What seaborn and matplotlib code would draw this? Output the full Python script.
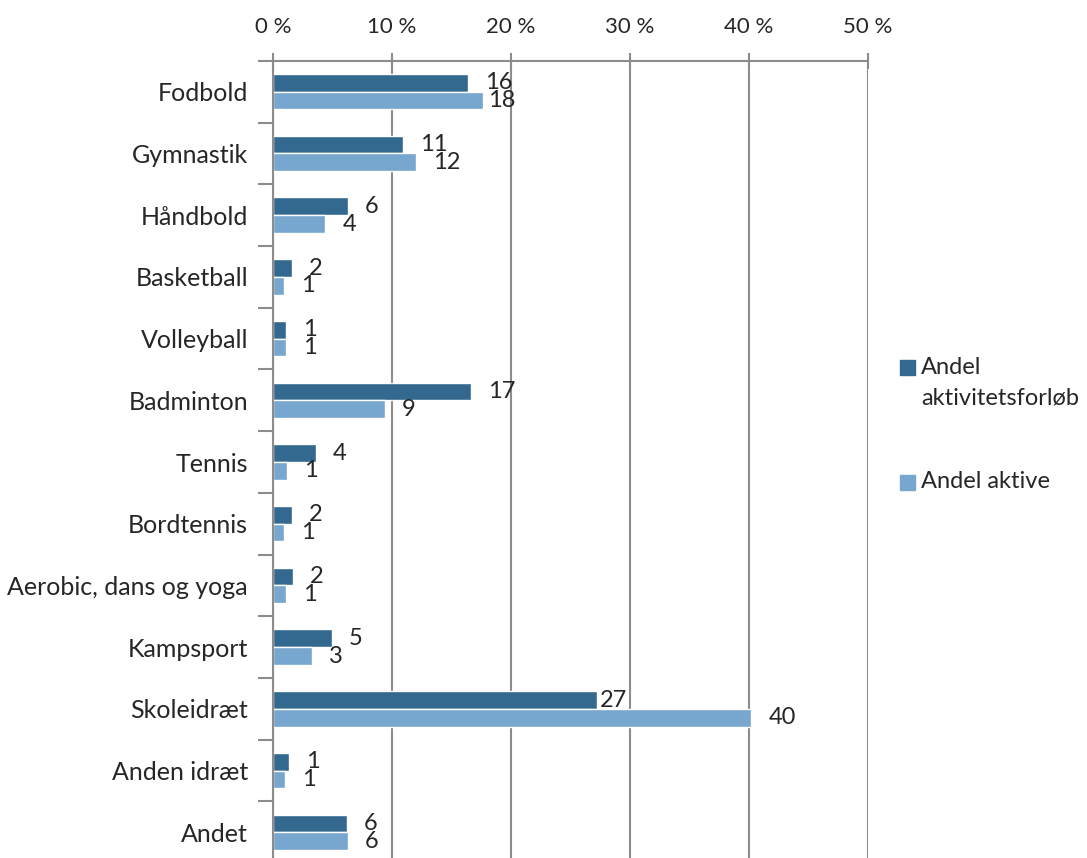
import pandas as pd
import seaborn as sns
import matplotlib.pyplot as plt
from matplotlib.patches import Rectangle

sports = ['Fodbold', 'Gymnastik', 'Håndbold', 'Basketball', 'Volleyball', 'Badminton',
          'Tennis', 'Bordtennis', 'Aerobic, dans og yoga', 'Kampsport', 'Skoleidræt',
          'Anden idræt', 'Andet']
forloeb = [16.35, 10.9, 6.3, 1.6, 1.1, 16.6, 3.6, 1.6, 1.68, 4.95, 27.2, 1.3, 6.2]
aktive = [17.6, 12.05, 4.4, 0.92, 1.1, 9.4, 1.2, 0.92, 1.1, 3.3, 40.2, 0.98, 6.3]
series = ['Andel aktivitetsforløb', 'Andel aktive']
colors = ['#33698F', '#77A6CF']
xticks = [0, 10, 20, 30, 40, 50]

df = pd.DataFrame({
    'sport': sports * 2,
    'andel': forloeb + aktive,
    'serie': [series[0]] * len(sports) + [series[1]] * len(sports),
})

sns.set_style('white')
plt.rcParams['font.family'] = ['Lato', 'DejaVu Sans']
grey = '#8C8C8C'

fig = plt.figure(figsize=(10.87, 8.58), dpi=100)
ax = fig.add_axes([0.2512, -0.006, 0.5474, 0.935])
sns.barplot(data=df, x='andel', y='sport', hue='serie', palette=colors, width=0.574,
            orient='h', saturation=1, legend=False, ax=ax)

# x axis on top with % labels
ax.set_xlim(0, 50)
ax.xaxis.tick_top()
ax.set_xticks(xticks)
ax.set_xticklabels([f'{t} %' for t in xticks], fontsize=16)
ax.tick_params(axis='x', direction='inout', length=12, width=1.5, color=grey, pad=11)
ax.grid(axis='x', color=grey, linewidth=1.5)
ax.set_axisbelow(True)
ax.set_xlabel('')
ax.set_ylabel('')

# y ticks at category boundaries, labels at centres
n = len(sports)
ax.set_ylim(n - 0.5, -0.5)
ax.set_yticks([i - 0.5 for i in range(n + 1)])
ax.set_yticklabels([])
ax.set_yticks(range(n), minor=True)
ax.set_yticklabels(sports, minor=True, fontsize=18)
ax.tick_params(axis='y', which='major', direction='out', length=11, width=1.5, color=grey, left=True)
ax.tick_params(axis='y', which='minor', length=0, pad=18)

for s in ['right', 'bottom']:
    ax.spines[s].set_visible(False)
for s in ['left', 'top']:
    ax.spines[s].set_color(grey)
    ax.spines[s].set_linewidth(1.5)

# value labels (rounded like in the original)
offsets = {(0, 'Skoleidræt'): 3, (1, 'Fodbold'): 6}
for k, cont in enumerate(ax.containers):
    vals = [forloeb, aktive][k]
    for j, bar in enumerate(cont):
        dx = offsets.get((k, sports[j]), 17)
        ax.annotate(f'{round(vals[j])}', (bar.get_width(), bar.get_y() + bar.get_height() / 2),
                    xytext=(dx * 0.72, 0), textcoords='offset points',
                    ha='left', va='center', fontsize=17, annotation_clip=False)

# legend
fig.patches.append(Rectangle((900 / 1087, 1 - 375 / 858), 15 / 1087, 15 / 858,
                             transform=fig.transFigure, color=colors[0]))
fig.text(921 / 1087, 1 - 367 / 858, 'Andel', fontsize=17, va='center')
fig.text(921 / 1087, 1 - 398 / 858, 'aktivitetsforløb', fontsize=17, va='center')
fig.patches.append(Rectangle((900 / 1087, 1 - 490 / 858), 15 / 1087, 15 / 858,
                             transform=fig.transFigure, color=colors[1]))
fig.text(921 / 1087, 1 - 482 / 858, 'Andel aktive', fontsize=17, va='center')

fig.savefig('out.png', dpi=100)
